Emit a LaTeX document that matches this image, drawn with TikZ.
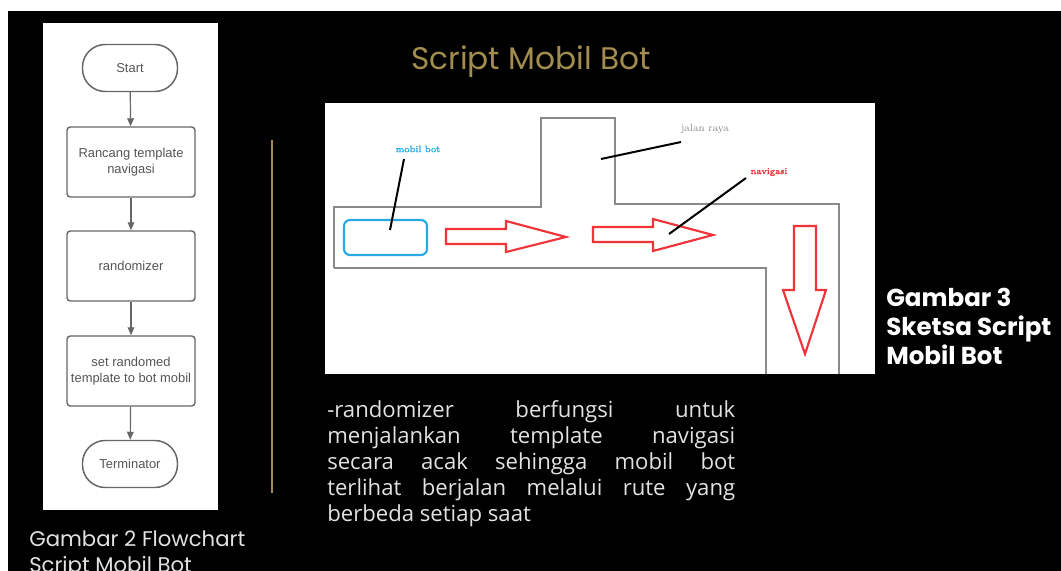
\documentclass[tikz,border=0pt]{standalone}
\usepackage{fontspec}
\setmainfont{Liberation Sans}
\newfontfamily\pop{Poppins}
\newfontfamily\body{Open Sans}
\newfontfamily\lmr{Latin Modern Roman}
\newfontfamily\lmrb{Latin Modern Roman}[FakeBold=2]
\usetikzlibrary{arrows.meta}
\definecolor{gold}{HTML}{A38D4E}
\definecolor{road}{HTML}{8A8A8A}
\definecolor{botblue}{HTML}{2AA8E6}
\definecolor{navred}{HTML}{F0343A}
\definecolor{fctext}{HTML}{555555}
\definecolor{fcline}{HTML}{666666}
\definecolor{txt}{HTML}{E2E2E2}
\tikzset{
  fcbox/.style={draw=fcline, line width=1.1pt, rounded corners=2.5pt, minimum width=96pt, minimum height=52.5pt, align=center, text=fctext, font=\fontsize{9.7}{12}\selectfont, inner sep=1pt},
  pill/.style={draw=fcline, line width=1.1pt, rounded corners=17pt, minimum width=71.25pt, minimum height=35.25pt, text=fctext, font=\fontsize{9.7}{12}\selectfont},
  fcarrow/.style={draw=fcline, line width=0.9pt, -{Triangle[length=6pt,width=5pt]}},
  roadline/.style={draw=road, line width=1.6pt},
  navarrow/.style={draw=navred, line width=1.6pt, fill=white, line join=miter},
  pointer/.style={draw=black, line width=1.5pt},
  sketchlabel/.style={inner sep=0pt, font=\lmr\fontsize{7.8}{8}\selectfont},
  sketchbold/.style={inner sep=0pt, font=\lmrb\fontsize{6.9}{8}\selectfont},
}
\newcommand{\jline}[1]{\makebox[306pt][s]{#1}}
\begin{document}
\begin{tikzpicture}[x=0.75pt,y=-0.75pt]
\fill[black] (0,0) rectangle (1061,571);
\useasboundingbox (0,0) rectangle (1061,571);
\fill[white] (0,0) rectangle (1061,11);
\fill[white] (0,0) rectangle (8,571);
% flowchart panel
\fill[white] (43,23) rectangle (218,510);
\node[pill] (start) at (130,68) {Start};
\node[fcbox] (b1) at (131,162) {Rancang template\\navigasi};
\node[fcbox] (b2) at (131,266) {randomizer};
\node[fcbox] (b3) at (131,371) {set randomed\\template to bot mobil};
\node[pill] (term) at (130,464) {Terminator};
\draw[fcarrow] (start) -- (b1);
\draw[fcarrow] (b1) -- (b2);
\draw[fcarrow] (b2) -- (b3);
\draw[fcarrow] (b3) -- (term);
% divider
\draw[gold, line width=1.2pt] (272,140) -- (272,493);
% captions
\node[anchor=north west, text=txt, align=left, inner sep=0pt, font=\pop\fontsize{15.9}{18.8}\selectfont] (cap2) at (29,531) {Gambar 2 Flowchart\\Script Mobil Bot};
\node[text=gold, inner sep=0pt, font=\pop\fontsize{23.4}{26}\selectfont] (title) at (531,62) {Script Mobil Bot};
\node[anchor=north west, text=white, align=left, inner sep=0pt, font=\pop\bfseries\fontsize{18.4}{21.8}\selectfont] (cap3) at (886,288) {Gambar 3\\Sketsa Script\\Mobil Bot};
% sketch panel
\fill[white] (325,103) rectangle (875,374);
\draw[roadline] (334,268) -- (334,207) -- (541,207) -- (541,118) -- (615,118) -- (615,204) -- (839,204) -- (839,374);
\draw[roadline] (334,268) -- (766,268) -- (766,374);
\draw[draw=botblue, line width=1.6pt, rounded corners=4.5pt] (344,220) rectangle (427,255);
\draw[navarrow] (446,229) -- (506,229) -- (506,221) -- (566,237) -- (506,252) -- (506,244) -- (446,244) -- cycle;
\draw[navarrow] (593,227) -- (653,227) -- (653,219) -- (713,235) -- (653,251) -- (653,242) -- (593,242) -- cycle;
\draw[navarrow] (794,226) -- (816,226) -- (816,290) -- (826,290) -- (805,354) -- (783,290) -- (794,290) -- cycle;
\node[sketchbold, text=botblue] (lbot) at (418,149) {mobil bot};
\node[sketchlabel, text=road] (lroad) at (705,129) {jalan raya};
\node[sketchbold, text=navred] (lnav) at (769,172) {navigasi};
\coordinate (pbot) at (390,230);
\coordinate (proad) at (601,159);
\coordinate (pnav) at (669,234);
\draw[pointer] (404,159) -- (pbot);
\draw[pointer] (681,142) -- (proad);
\draw[pointer] (746,178) -- (pnav);
% paragraph
\node[anchor=north west, text=txt, align=left, inner sep=0pt, font=\body\fontsize{16.6}{19.6}\selectfont] (para) at (327,400) {\jline{-randomizer\hfill berfungsi\hfill untuk}\\\jline{menjalankan\hfill template\hfill navigasi}\\\jline{secara\hfill acak\hfill sehingga\hfill mobil\hfill bot}\\\jline{terlihat\hfill berjalan\hfill melalui\hfill rute\hfill yang}\\berbeda setiap saat};
\end{tikzpicture}
\end{document}
